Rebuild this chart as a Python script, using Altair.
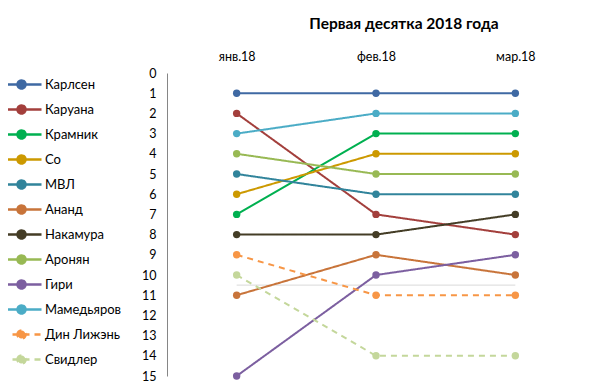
import altair as alt
import pandas as pd

months = ["янв.18", "фев.18", "мар.18"]
players = ["Карлсен", "Каруана", "Крамник", "Со", "МВЛ", "Ананд", "Накамура",
           "Аронян", "Гири", "Мамедьяров", "Дин Лижэнь", "Свидлер"]
ranks = [
    [1, 1, 1],
    [2, 7, 8],
    [7, 3, 3],
    [6, 4, 4],
    [5, 6, 6],
    [11, 9, 10],
    [8, 8, 7],
    [4, 5, 5],
    [15, 10, 9],
    [3, 2, 2],
    [9, 11, 11],
    [10, 14, 14],
]
colors = ["#3F69A3", "#A33F3C", "#00B050", "#CC9900", "#31849B", "#C8743A",
          "#443D26", "#98B954", "#7C5FA0", "#4BACC6", "#F79646", "#C4D79B"]
dashed = ["Дин Лижэнь", "Свидлер"]
cutoff_months = ["янв.18", "мар.18"]
cutoff_value = 10.5

rows = []
for p, r in zip(players, ranks):
    for m, v in zip(months, r):
        rows.append({"player": p, "month": m, "rank": v})
df = pd.DataFrame(rows)
cut = pd.DataFrame({"month": cutoff_months, "rank": [cutoff_value] * 2})

FONT = "Lato"
x = alt.X("month:N", sort=months, title=None,
          scale=alt.Scale(type="point", padding=0.5),
          axis=alt.Axis(orient="top", ticks=False, domain=False, labelAngle=0,
                        labelFontSize=12.5, labelFont=FONT, labelColor="#000",
                        labelPadding=10))
y = alt.Y("rank:Q", title=None,
          scale=alt.Scale(domain=[0, 15], reverse=True, nice=False, zero=False),
          axis=alt.Axis(values=list(range(16)), grid=False, ticks=False,
                        domainColor="#868686", domainWidth=1, labelFontSize=12.5,
                        labelFont=FONT, labelColor="#000", labelPadding=11))

dash_scale = alt.Scale(domain=players,
                       range=[[6, 5] if p in dashed else [1, 0] for p in players])
color_scale = alt.Scale(domain=players, range=colors)

def make_legend():
    return alt.Legend(
        title=None, orient="none", legendX=-152, legendY=5,
        symbolType="M-4,0L4,0M-0.8,0A0.8,0.8,0,1,1,0.8,0A0.8,0.8,0,1,1,-0.8,0Z",
        symbolSize=100, symbolStrokeWidth=2.5, labelFontSize=13, labelFont=FONT,
        labelColor="#000", labelOffset=17, rowPadding=6,
    )

base = alt.Chart(df)
cut_line = alt.Chart(cut).mark_line(color="#D9D9D9", strokeWidth=1).encode(x=x, y=y)
lines = base.mark_line(strokeWidth=2).encode(
    x=x, y=y,
    stroke=alt.Stroke("player:N", sort=players, scale=color_scale, legend=make_legend()),
    strokeDash=alt.StrokeDash("player:N", sort=players, scale=dash_scale, legend=make_legend()),
    detail="player:N",
)
points = base.mark_point(size=55, filled=True, opacity=1, strokeWidth=0).encode(
    x=x, y=y,
    fill=alt.Fill("player:N", sort=players, scale=color_scale, legend=make_legend()),
)

chart = alt.layer(cut_line, lines, points).properties(
    width=418, height=303,
    title=alt.TitleParams("Первая десятка 2018 года", font=FONT, fontSize=15.5,
                          fontWeight="bold", color="#000", dx=28, offset=18),
    padding={"left": 159, "top": 65, "right": 5, "bottom": 12},
    autosize=alt.AutoSizeParams(type="none"),
).configure_view(stroke=None)

chart.save("out.html", embed_options={"renderer": "svg", "actions": False})
